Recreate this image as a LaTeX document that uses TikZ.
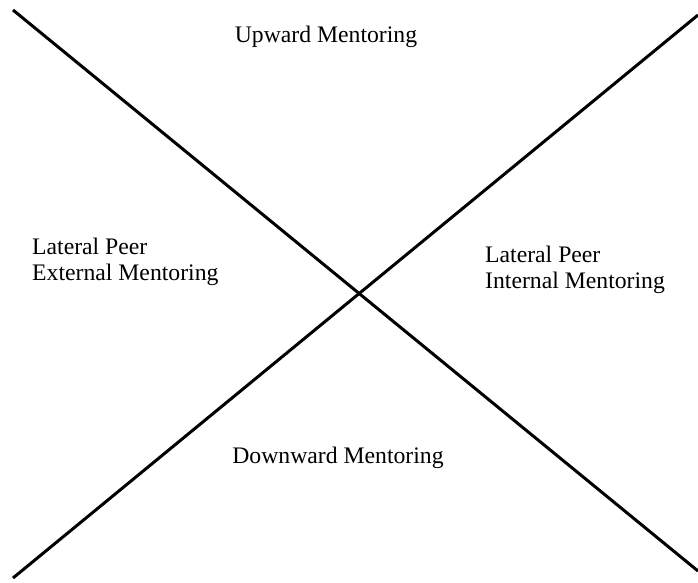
\documentclass[tikz,border=0pt]{standalone}
\usepackage{fontspec}
\setmainfont{Liberation Serif}
\usepackage{tikz}
\tikzset{quad/.style={inner sep=0pt,font=\fontsize{23.7}{26.5}\selectfont},
	 axis/.style={line width=3pt},
	 x=1pt, y=1pt
	 }
\begin{document}
\begin{tikzpicture} % mentoring directions
	\useasboundingbox (0,0) rectangle (698,-582);
	\coordinate (tl) at (13,-10);
	\coordinate (br) at (698,-571);
	\coordinate (bl) at (13,-578);
	\coordinate (tr) at (698,-15);
	\node[quad,anchor=base] (up) at (326,-42) {Upward Mentoring};
	\node[quad,anchor=base] (down) at (338,-463) {Downward Mentoring};
	\node[quad,anchor=base west,align=left] (ext) at (32,-280.5) {Lateral Peer\\External Mentoring};
	\node[quad,anchor=base west,align=left] (int) at (485,-288.5) {Lateral Peer\\Internal Mentoring};
	\draw[axis] (tl) to (br);
	\draw[axis] (bl) to (tr);
\end{tikzpicture}
\end{document}
